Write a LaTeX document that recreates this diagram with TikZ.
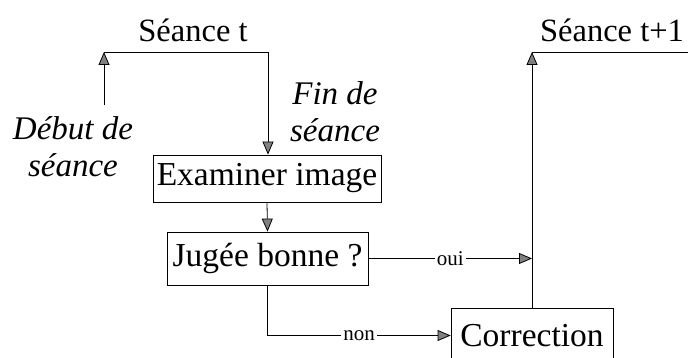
\documentclass[tikz,border=0pt]{standalone}
\usepackage{fontspec}
\setmainfont{Liberation Serif}
\usetikzlibrary{arrows.meta}
\tikzset{
    box/.style={draw=black, inner sep=0pt, font=\fontsize{33.5}{38}\selectfont},
    flow/.style={draw=black, -{Triangle[length=13pt,width=11pt,fill=gray]}},
    link/.style={draw=black},
    tag/.style={fill=white, inner sep=2pt, font=\fontsize{21}{24}\selectfont},
    title/.style={font=\fontsize{32.5}{36}\selectfont},
    side/.style={align=center, font=\fontsize{33}{37}\selectfont\itshape},
}

\begin{document}
\begin{tikzpicture}[x=1pt,y=1pt,line width=0.8pt]
\useasboundingbox (0,0) rectangle (688,358);

\node [title] (seance) at (193,328) {Séance t};
\node [title] (seancesuiv) at (612,328) {Séance t+1};
\node [side] (debut) at (73,211) {Début de\\séance};
\node [side] (fin) at (335,246) {Fin de\\séance};

\node [box, minimum width=228pt, minimum height=47pt] (examiner) at (267,179.5) {Examiner image};
\node [box, minimum width=201pt, minimum height=53pt] (jugee) at (267.5,99.5) {Jugée bonne ?};
\node [box, minimum width=162pt, minimum height=55pt] (correction) at (532,22.5) {Correction};

\coordinate (debutpied) at (104,253);
\coordinate (coinG) at (104,306);
\coordinate (coinD) at (268,306);
\coordinate (coinH) at (532,306);
\coordinate (sortie) at (690,306);

% seance t
\draw [flow] (debutpied) -- (coinG);
\draw [link] (coinG) -- (coinD);
\draw [flow] (coinD) -- (coinD |- examiner.north);
\draw [flow] (examiner.south) -- (jugee.north);

% decision
\draw [flow] (jugee.east) -- node[tag] {oui} (jugee.east -| correction.north);
\draw [flow] (jugee.south) |- node[tag, pos=0.75] {non} (correction.west);

% seance t+1
\draw [flow] (correction.north) -- (coinH);
\draw [link] (coinH) -- (sortie);
\end{tikzpicture}
\end{document}
